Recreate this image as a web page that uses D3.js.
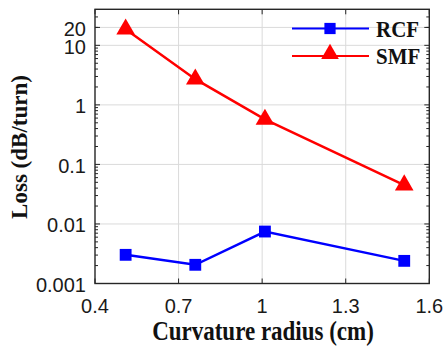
<!DOCTYPE html>
<head>
    <meta charset="utf-8">
    <title>bend loss</title>
    <script src="https://d3js.org/d3.v7.min.js"></script>
    <style>
        body { margin: 0; background: #fff; }
        .tick-label { font-family: "Liberation Sans", Arial, sans-serif; font-size: 20px; fill: #1a1a1a; }
        .axis-title { font-family: "Liberation Serif", "Times New Roman", serif; font-size: 23px; font-weight: bold; fill: #111; }
        .legend-text { font-family: "Liberation Serif", "Times New Roman", serif; font-size: 21px; font-weight: bold; fill: #111; }
    </style>
</head>

<body>
    <svg width="444" height="350"></svg>
    <script>
        // data
        var radius = [0.51, 0.76, 1.01, 1.51];
        var rcf = [0.00303, 0.00206, 0.00746, 0.0024];
        var smf = [18.7, 2.7, 0.57, 0.045];
        var seriesNames = ["RCF", "SMF"];
        var xTicks = [0.4, 0.7, 1, 1.3, 1.6];
        var yTicks = [0.001, 0.01, 0.1, 1, 10, 20];
        var yTickLabels = ["0.001", "0.01", "0.1", "1", "10", "20"];

        var pLeft = 95, pRight = 429.3, pTop = 9.3, pBottom = 283.5;

        var svg = d3.select("svg");

        var x = d3.scaleLinear().domain([0.4, 1.6]).range([pLeft, pRight]);
        var y = d3.scaleLog().domain([0.001, 40.3]).range([pBottom, pTop]);

        // grid
        var grid = svg.append("g").attr("stroke", "#dadada").attr("stroke-width", 1);
        xTicks.slice(1, -1).forEach(function (t) {
            grid.append("line").attr("x1", x(t)).attr("x2", x(t)).attr("y1", pTop).attr("y2", pBottom);
        });
        yTicks.slice(1).forEach(function (t) {
            grid.append("line").attr("x1", pLeft).attr("x2", pRight).attr("y1", y(t)).attr("y2", y(t));
        });

        // minor log ticks
        var minor = [];
        for (var e = -3; e <= 1; e++) {
            for (var m = 2; m <= 9; m++) {
                var v = m * Math.pow(10, e);
                if (v < 40.3) minor.push(v);
            }
        }
        var ticks = svg.append("g").attr("stroke", "#262626").attr("stroke-width", 1);
        minor.forEach(function (v) {
            ticks.append("line").attr("x1", pLeft).attr("x2", pLeft + 3).attr("y1", y(v)).attr("y2", y(v));
            ticks.append("line").attr("x1", pRight).attr("x2", pRight - 3).attr("y1", y(v)).attr("y2", y(v));
        });
        yTicks.forEach(function (v) {
            ticks.append("line").attr("x1", pLeft).attr("x2", pLeft + 5).attr("y1", y(v)).attr("y2", y(v));
            ticks.append("line").attr("x1", pRight).attr("x2", pRight - 5).attr("y1", y(v)).attr("y2", y(v));
        });
        xTicks.forEach(function (v) {
            ticks.append("line").attr("x1", x(v)).attr("x2", x(v)).attr("y1", pBottom).attr("y2", pBottom - 5);
            ticks.append("line").attr("x1", x(v)).attr("x2", x(v)).attr("y1", pTop).attr("y2", pTop + 5);
        });

        // frame
        svg.append("rect")
            .attr("x", pLeft).attr("y", pTop)
            .attr("width", pRight - pLeft).attr("height", pBottom - pTop)
            .attr("fill", "none").attr("stroke", "#262626").attr("stroke-width", 1.4);

        // tick labels
        svg.selectAll(".ytl").data(yTicks).enter().append("text")
            .attr("class", "tick-label")
            .attr("x", pLeft - 9)
            .attr("y", function (d) { return y(d) + 1; })
            .attr("dy", "0.36em")
            .attr("text-anchor", "end")
            .text(function (d, i) { return yTickLabels[i]; });

        svg.selectAll(".xtl").data(xTicks).enter().append("text")
            .attr("class", "tick-label")
            .attr("transform", function (d) { return "translate(" + x(d) + ",313) scale(1,1.05)"; })
            .attr("text-anchor", "middle")
            .text(function (d) { return d; });

        // axis titles
        svg.append("text").attr("class", "axis-title")
            .attr("transform", "translate(263,340) scale(1,1.17)")
            .attr("text-anchor", "middle")
            .text("Curvature radius (cm)");

        svg.append("text").attr("class", "axis-title")
            .attr("transform", "translate(27,147) rotate(-90)")
            .attr("text-anchor", "middle")
            .text("Loss (dB/turn)");

        // series
        var line = d3.line()
            .x(function (d) { return x(d[0]); })
            .y(function (d) { return y(d[1]); });

        var series = [
            { name: seriesNames[0], values: rcf, color: "#0000ff", symbol: d3.symbolSquare, size: 140 },
            { name: seriesNames[1], values: smf, color: "#ff0000", symbol: d3.symbolTriangle, size: 150 }
        ];

        series.forEach(function (s) {
            var pts = radius.map(function (r, i) { return [r, s.values[i]]; });
            svg.append("path")
                .attr("d", line(pts))
                .attr("fill", "none")
                .attr("stroke", s.color)
                .attr("stroke-width", 2.5);
            svg.selectAll(null).data(pts).enter().append("path")
                .attr("d", d3.symbol().type(s.symbol).size(s.size))
                .attr("transform", function (d) { return "translate(" + x(d[0]) + "," + y(d[1]) + ")"; })
                .attr("fill", s.color);
        });

        // legend
        var legend = svg.append("g");
        series.forEach(function (s, i) {
            var ly = 28.5 + i * 27.5;
            legend.append("line")
                .attr("x1", 292).attr("x2", 369).attr("y1", ly).attr("y2", ly)
                .attr("stroke", s.color).attr("stroke-width", 2);
            legend.append("path")
                .attr("d", d3.symbol().type(s.symbol).size(s.size * 0.9))
                .attr("transform", "translate(330," + (ly - (i === 1 ? 2 : 0)) + ")")
                .attr("fill", s.color);
            legend.append("text").attr("class", "legend-text")
                .attr("transform", "translate(376," + (ly + 8) + ") scale(1,1.12)")
                .text(s.name);
        });
    </script>
</body>
